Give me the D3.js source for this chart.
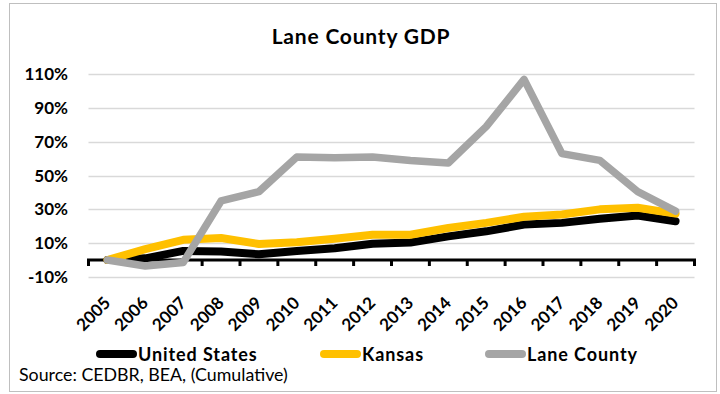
<!DOCTYPE html>
<html><head><meta charset="utf-8">
<script src="https://cdn.jsdelivr.net/npm/d3@7"></script>
<style>
html,body{margin:0;padding:0;background:#fff;}
svg{display:block;font-family:Lato,"Open Sans",sans-serif;}
</style></head>
<body><svg id="c" width="720" height="394"></svg>
<script>
const years = ["2005","2006","2007","2008","2009","2010","2011","2012","2013","2014","2015","2016","2017","2018","2019","2020"];
const unitedStates = [0, 1, 5.4, 5, 3.4, 5.4, 7, 9.6, 10.4, 14, 17, 21, 22, 24.4, 26.4, 23];
const kansas = [0, 6.4, 12, 13, 9.5, 10.5, 12.6, 15, 15, 19, 22, 25.6, 27, 30, 31, 27.5];
const laneCounty = [0, -3.5, -1.5, 35, 40.5, 61, 60.5, 61, 59, 57.5, 79, 107, 63, 59, 40.5, 29];
const yTicks = [-10, 10, 30, 50, 70, 90, 110];
const seriesNames = ["United States", "Kansas", "Lane County"];
const seriesColors = ["#000000", "#FFC000", "#A5A5A5"];

const svg = d3.select("#c");
svg.append("rect").attr("x",9.5).attr("y",3.5).attr("width",707).attr("height",388)
  .attr("fill","#fff").attr("stroke","#bfbfbf").attr("stroke-width",1);

const x = d3.scaleBand().domain(years).range([88.5, 694.5]);
const y = d3.scaleLinear().domain([-10, 110]).range([276.9, 74.3]);

svg.append("text").attr("x",361).attr("y",43.5).attr("text-anchor","middle")
  .attr("font-weight","bold").attr("font-size",21).attr("letter-spacing",0.8).attr("fill","#000").text("Lane County GDP");

// gridlines
svg.append("g").selectAll("line").data(yTicks).join("line")
  .attr("x1",88.5).attr("x2",694.5).attr("y1",d=>Math.round(y(d))+0.5).attr("y2",d=>Math.round(y(d))+0.5)
  .attr("stroke","#d9d9d9").attr("stroke-width",1.3);

// y labels
const yAxis = d3.axisLeft(y).tickValues(yTicks).tickFormat(d=>d+"%").tickSize(0).tickPadding(0);
const gy = svg.append("g").attr("transform","translate(68,0)").call(yAxis);
gy.select(".domain").remove();
gy.selectAll("text").attr("font-family","Lato").attr("font-weight","bold").attr("font-size",17).attr("fill","#000");

// x axis at 0
const xAxis = d3.axisBottom(x).tickSize(0).tickFormat(d=>d);
const gx = svg.append("g").attr("transform",`translate(0,${y(0)})`).call(xAxis);
gx.select(".domain").remove();
gx.selectAll("text").attr("font-family","Lato").attr("font-weight","bold").attr("font-size",17).attr("fill","#000")
  .attr("text-anchor","end").attr("dy",0).attr("y",0)
  .attr("transform","translate(4,44) rotate(-45)");
const bounds = years.map(d=>x(d)).concat([x(years[years.length-1])+x.bandwidth()]);
svg.append("g").selectAll("line").data(bounds).join("line")
  .attr("x1",d=>d).attr("x2",d=>d).attr("y1",y(0)).attr("y2",y(0)+6)
  .attr("stroke","#000").attr("stroke-width",3);
svg.append("line").attr("x1",87).attr("x2",696).attr("y1",y(0)).attr("y2",y(0))
  .attr("stroke","#000").attr("stroke-width",3);

const line = d3.line().x((d,i)=>x(years[i])+x.bandwidth()/2).y(d=>y(d)).curve(d3.curveLinear);
[unitedStates, kansas, laneCounty].forEach((s,k)=>{
  svg.append("path").datum(s).attr("d",line).attr("fill","none")
    .attr("stroke",seriesColors[k]).attr("stroke-width",k===2?7.5:8).attr("stroke-linejoin","round").attr("stroke-linecap","round");
});

// legend
const legX = [96, 320, 485];
const lg = svg.append("g");
seriesNames.forEach((n,i)=>{
  lg.append("line").attr("x1",legX[i]+4).attr("x2",legX[i]+37).attr("y1",354).attr("y2",354)
    .attr("stroke",seriesColors[i]).attr("stroke-width",8).attr("stroke-linecap","round");
  lg.append("text").attr("x",legX[i]+42).attr("y",360.5).attr("font-weight","bold").attr("font-size",18)
    .attr("letter-spacing",0.9).attr("fill","#000").text(n);
});
svg.append("text").attr("x",19).attr("y",381).attr("font-size",17.8).attr("fill","#000").text("Source: CEDBR, BEA, (Cumulative)");
</script></body></html>
